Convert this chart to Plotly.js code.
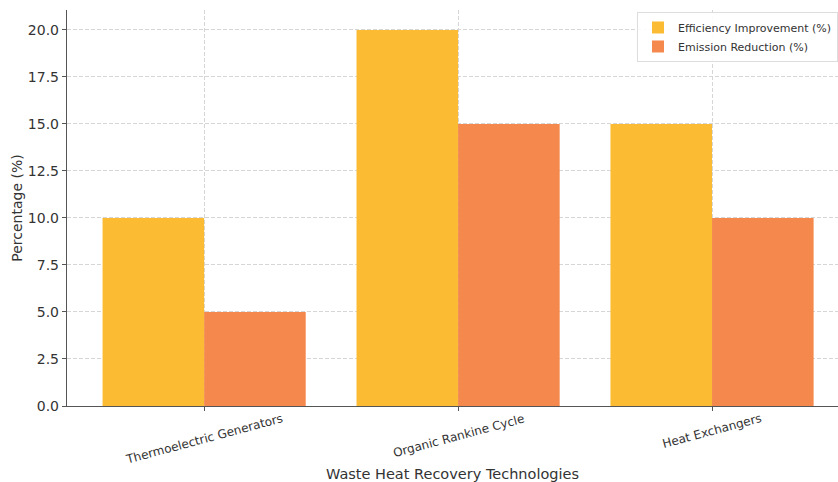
<!DOCTYPE html>
<html><head><meta charset="utf-8">
<script src="https://cdn.plot.ly/plotly-3.0.1.min.js"></script>
<style>html,body{margin:0;padding:0;background:#fff}</style>
</head><body>
<div id="chart" style="width:838px;height:482px"></div>
<script>
const categories = ["Thermoelectric Generators", "Organic Rankine Cycle", "Heat Exchangers"];
const efficiencyImprovement = [10, 20, 15];
const emissionReduction = [5, 15, 10];
const yTicks = [0, 2.5, 5, 7.5, 10, 12.5, 15, 17.5, 20];
const yTickLabels = ["0.0", "2.5", "5.0", "7.5", "10.0", "12.5", "15.0", "17.5", "20.0"];

const font = "DejaVu Sans, sans-serif";
const data = [
  {type: "bar", name: "Efficiency Improvement (%)", x: categories, y: efficiencyImprovement,
   marker: {color: "#FBBC33"}, offsetgroup: "a"},
  {type: "bar", name: "Emission Reduction (%)", x: categories, y: emissionReduction,
   marker: {color: "#F5894D"}, offsetgroup: "b"}
];
// category labels, centred under each category and rotated like the original
const catLabels = categories.map(c => ({
  text: c, x: c, xref: "x", y: 0, yref: "paper",
  xanchor: "center", yanchor: "top", yshift: -3,
  textangle: -15, showarrow: false,
  font: {family: font, size: 12, color: "#333"}
}));
const layout = {
  width: 838, height: 482,
  margin: {l: 67, r: 0, t: 10, b: 76},
  paper_bgcolor: "#fff", plot_bgcolor: "#fff",
  barmode: "group", bargap: 0.2, bargroupgap: 0,
  font: {family: font, color: "#333"},
  xaxis: {
    range: [-0.54, 2.496], showticklabels: false,
    showgrid: true, gridcolor: "#d6d6d6", griddash: "4px,2px", gridwidth: 1,
    showline: true, linecolor: "#555", linewidth: 1.2,
    ticks: "outside", ticklen: 4, tickcolor: "#555",
    title: {text: "Waste Heat Recovery Technologies", font: {size: 14.5, color: "#333"}, standoff: 58}
  },
  yaxis: {
    range: [0, 21.06], tickvals: yTicks, ticktext: yTickLabels,
    tickfont: {size: 14, color: "#333"},
    showgrid: true, gridcolor: "#d6d6d6", griddash: "4px,2px", gridwidth: 1,
    showline: true, linecolor: "#555", linewidth: 1.2, zeroline: false,
    ticks: "outside", ticklen: 4, tickcolor: "#555",
    title: {text: "Percentage (%)", font: {size: 14, color: "#333"}, standoff: 2}
  },
  annotations: catLabels,
  legend: {
    x: 1, xanchor: "right", y: 0.995, yanchor: "top",
    bgcolor: "rgba(255,255,255,0.9)", bordercolor: "#ddd", borderwidth: 1,
    font: {size: 11, color: "#333"}, tracegroupgap: 0
  },
  showlegend: true
};
Plotly.newPlot("chart", data, layout, {displayModeBar: false, staticPlot: true});
</script>
</body></html>
